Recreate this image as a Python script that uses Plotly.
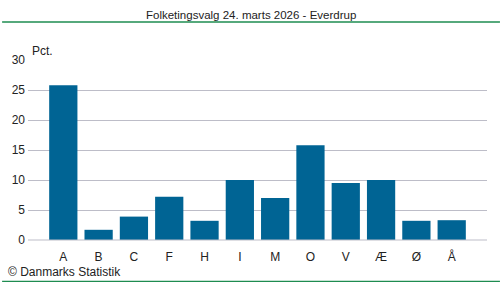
import plotly.graph_objects as go

categories = ["A", "B", "C", "F", "H", "I", "M", "O", "V", "Æ", "Ø", "Å"]
values = [25.8, 1.7, 3.9, 7.2, 3.2, 10.0, 7.0, 15.8, 9.5, 10.0, 3.2, 3.3]
y_ticks = [0, 5, 10, 15, 20, 25, 30]

FONT = "Liberation Sans, Arial, sans-serif"
TXT = "#222222"
W, H = 500, 282
ML, MR, MT, MB = 26, 13, 60, 42
ph = H - MT - MB
pw = W - ML - MR


def py(pix):
    return (H - MB - pix) / ph


def px(pix):
    return (pix - ML) / pw


fig = go.Figure()
fig.add_trace(go.Bar(x=list(range(len(categories))), y=values,
                     marker=dict(color="#006494", line=dict(width=0)),
                     width=0.8, hoverinfo="skip"))

fig.update_layout(
    width=W, height=H,
    margin=dict(l=ML, r=MR, t=MT, b=MB),
    paper_bgcolor="white", plot_bgcolor="white",
    showlegend=False,
    font=dict(family=FONT, size=12, color=TXT),
    xaxis=dict(range=[-1, len(categories)], tickmode="array",
               tickvals=list(range(len(categories))), ticktext=categories,
               showgrid=False, zeroline=False, showline=False, ticks="",
               ticklabelstandoff=8,
               tickfont=dict(size=12, color=TXT)),
    yaxis=dict(range=[0, 30], tickmode="array", tickvals=y_ticks,
               showgrid=True, gridcolor="#BDBDC8", gridwidth=1,
               zeroline=False, showline=False, ticks="", ticklabelstandoff=2,
               tickfont=dict(size=12, color=TXT)),
    shapes=[
        dict(type="line", xref="paper", yref="paper", x0=px(0), x1=px(500), y0=py(22), y1=py(22),
             line=dict(color="#1E8C50", width=1.5)),
        dict(type="line", xref="paper", yref="paper", x0=px(0), x1=px(500), y0=py(281.5), y1=py(281.5),
             line=dict(color="#1E8C50", width=1.5)),
        dict(type="line", xref="paper", yref="paper", x0=0, x1=1, y0=0, y1=0,
             line=dict(color="#BDBDC8", width=1)),
    ],
    annotations=[
        dict(text="Folketingsvalg 24. marts 2026 - Everdrup", x=px(250), y=py(15),
             xref="paper", yref="paper", showarrow=False, xanchor="center", yanchor="middle",
             font=dict(size=11.5, color=TXT)),
        dict(text="Pct.", x=px(28), y=py(51), xref="paper", yref="paper", showarrow=False,
             xanchor="left", yanchor="middle", font=dict(size=12, color=TXT)),
        dict(text="© Danmarks Statistik", x=px(4), y=py(272), xref="paper", yref="paper",
             showarrow=False, xanchor="left", yanchor="middle", font=dict(size=12, color=TXT)),
    ],
)

fig.write_html("out.html")
